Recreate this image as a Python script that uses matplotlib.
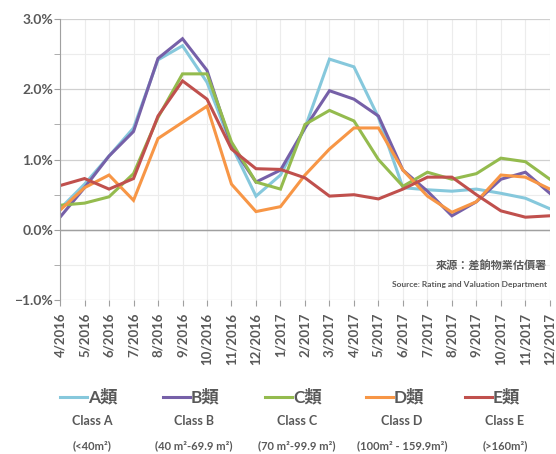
import numpy as np
import matplotlib.pyplot as plt
from matplotlib.lines import Line2D
from matplotlib.ticker import MultipleLocator, PercentFormatter

plt.rcParams['font.family'] = ['Lato', 'Noto Sans CJK TC', 'DejaVu Sans']

# data (monthly change, %)
months = ['4/2016', '5/2016', '6/2016', '7/2016', '8/2016', '9/2016', '10/2016',
          '11/2016', '12/2016', '1/2017', '2/2017', '3/2017', '4/2017', '5/2017',
          '6/2017', '7/2017', '8/2017', '9/2017', '10/2017', '11/2017', '12/2017']
class_a = [0.30, 0.65, 1.05, 1.45, 2.42, 2.62, 2.10, 1.20, 0.48, 0.78, 1.45,
           2.43, 2.32, 1.60, 0.60, 0.57, 0.55, 0.58, 0.52, 0.45, 0.30]
class_b = [0.18, 0.60, 1.05, 1.40, 2.44, 2.72, 2.27, 1.20, 0.68, 0.85, 1.45,
           1.98, 1.86, 1.62, 0.85, 0.55, 0.20, 0.40, 0.72, 0.82, 0.52]
class_c = [0.35, 0.38, 0.47, 0.80, 1.60, 2.22, 2.22, 1.25, 0.68, 0.58, 1.50,
           1.70, 1.55, 1.00, 0.62, 0.82, 0.72, 0.80, 1.02, 0.97, 0.72]
class_d = [0.28, 0.60, 0.78, 0.42, 1.30, 1.53, 1.76, 0.65, 0.26, 0.33, 0.78,
           1.15, 1.45, 1.45, 0.85, 0.48, 0.25, 0.40, 0.78, 0.75, 0.58]
class_e = [0.63, 0.73, 0.58, 0.73, 1.62, 2.12, 1.86, 1.15, 0.87, 0.86, 0.74,
           0.48, 0.50, 0.44, 0.58, 0.75, 0.75, 0.50, 0.27, 0.18, 0.20]

names = ['A類', 'B類', 'C類', 'D類', 'E類']
classes = ['Class A', 'Class B', 'Class C', 'Class D', 'Class E']
ranges = ['(<40m²)', '(40 m²-69.9 m²)', '(70 m²-99.9 m²)', '(100m² - 159.9m²)', '(>160m²)']
colors = ['#86c8dc', '#7660a8', '#94bb4e', '#f79646', '#c0504d']
series = [class_a, class_b, class_c, class_d, class_e]

gray = '#595959'

fig = plt.figure(figsize=(5.56, 4.54), dpi=100)
ax = fig.add_axes([0.108, 0.339, 0.881, 0.619])

x = np.arange(len(months))
for vals, c in zip(series, colors):
    ax.plot(x, vals, color=c, lw=2.2, solid_joinstyle='miter')

ax.set_xlim(0, len(months) - 1)
ax.set_ylim(-1.0, 3.0)
ax.yaxis.set_major_locator(MultipleLocator(1.0))
ax.yaxis.set_minor_locator(MultipleLocator(0.5))
ax.yaxis.set_major_formatter(PercentFormatter(decimals=1))
ax.grid(True, which='major', axis='y', color='#d0d0d0', lw=0.9)
ax.grid(True, which='minor', axis='y', color='#ececec', lw=0.8)
ax.grid(True, which='major', axis='x', color='#ececec', lw=0.8)
ax.set_axisbelow(True)

for s in ['top', 'right', 'bottom']:
    ax.spines[s].set_visible(False)
ax.spines['left'].set_color('#a0a0a0')

ax.set_xticks(x)
ax.set_xticklabels(months, rotation=90, fontsize=9.5, color=gray, fontweight='bold')
ax.tick_params(axis='x', length=0, pad=9)
ax.tick_params(axis='y', which='both', colors='#a0a0a0', length=4, labelsize=10, pad=1)
for t in ax.get_yticklabels():
    t.set_color(gray)
    t.set_fontweight('bold')

# zero axis line with tick marks
ax.axhline(0, color='#a0a0a0', lw=1.0, zorder=1)
sec = ax.secondary_xaxis(0)
sec.set_xticks(x)
sec.set_xticklabels([])
sec.tick_params(axis='x', length=4, color='#a0a0a0')
sec.spines['bottom'].set_visible(False)

# source note
ax.text(0.995, 0.12, '來源：差餉物業估價署', transform=ax.transAxes, ha='right', va='center',
        fontsize=8, fontweight='bold', color=gray, family=['Noto Sans CJK TC'])
ax.text(0.995, 0.055, 'Source: Rating and Valuation Department', transform=ax.transAxes,
        ha='right', va='center', fontsize=6, fontweight='bold', color=gray)

# legend drawn by hand
W, H = 556, 454
line_x0 = [60, 163, 265, 366, 465]
sub_cx = [92, 194, 297, 402, 505]
for i in range(5):
    x0 = line_x0[i]
    fig.add_artist(Line2D([x0 / W, (x0 + 27) / W], [1 - 397 / H] * 2, color=colors[i], lw=2.2))
    fig.text((x0 + 28) / W, 1 - 397 / H, names[i], ha='left', va='center', fontsize=12.5,
             fontweight='bold', color=gray)
    fig.text(sub_cx[i] / W, 1 - 421 / H, classes[i], ha='center', va='center', fontsize=9,
             fontweight='bold', color=gray)
    fig.text(sub_cx[i] / W, 1 - 446 / H, ranges[i], ha='center', va='center', fontsize=8,
             fontweight='bold', color=gray)

fig.savefig('out.png', dpi=100, facecolor='white')
